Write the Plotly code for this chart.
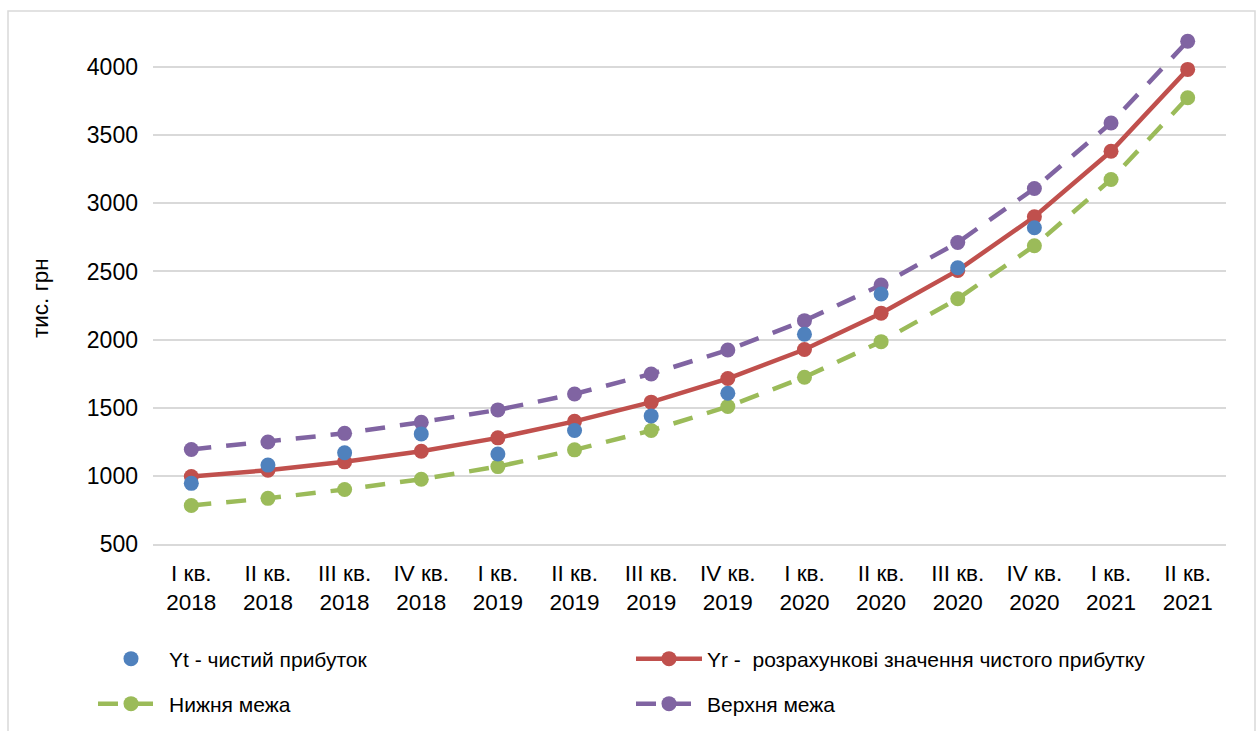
import plotly.graph_objects as go

categories = ["I кв.<br>2018", "II кв.<br>2018", "III кв.<br>2018", "IV кв.<br>2018",
              "I кв.<br>2019", "II кв.<br>2019", "III кв.<br>2019", "IV кв.<br>2019",
              "I кв.<br>2020", "II кв.<br>2020", "III кв.<br>2020", "IV кв.<br>2020",
              "I кв.<br>2021", "II кв.<br>2021"]
yt_actual = [945, 1079, 1170, 1308, 1161, 1333, 1440, 1606, 2039, 2335, 2527, 2821, None, None]
yr_calc = [995, 1042, 1103, 1181, 1279, 1400, 1541, 1714, 1927, 2194, 2508, 2901, 3382, 3983]
lower_bound = [783, 835, 900, 975, 1068, 1191, 1333, 1509, 1724, 1985, 2300, 2689, 3175, 3775]
upper_bound = [1194, 1249, 1312, 1394, 1484, 1601, 1748, 1924, 2139, 2400, 2713, 3109, 3590, 4190]
y_ticks = [500, 1000, 1500, 2000, 2500, 3000, 3500, 4000]

names = ["Yt - чистий прибуток", "Yr -\u00a0 розрахункові значення чистого прибутку",
         "Нижня межа", "Верхня межа"]

BLUE = "#4F81BD"
RED = "#C0504D"
GREEN = "#9BBB59"
PURPLE = "#8064A2"
FONT = "Liberation Sans"

fig = go.Figure()
fig.add_trace(go.Scatter(x=categories, y=lower_bound, name=names[2], mode="lines+markers",
                         line=dict(color=GREEN, width=4.5, dash="20px,15px"),
                         marker=dict(color=GREEN, size=15), legend="legend2", legendrank=1,
                         cliponaxis=False))
fig.add_trace(go.Scatter(x=categories, y=upper_bound, name=names[3], mode="lines+markers",
                         line=dict(color=PURPLE, width=4.5, dash="20px,15px"),
                         marker=dict(color=PURPLE, size=15), legend="legend2", legendrank=2,
                         cliponaxis=False))
fig.add_trace(go.Scatter(x=categories, y=yr_calc, name=names[1], mode="lines+markers",
                         line=dict(color=RED, width=4.5),
                         marker=dict(color=RED, size=15), legend="legend", legendrank=2,
                         cliponaxis=False))
fig.add_trace(go.Scatter(x=categories, y=yt_actual, name=names[0], mode="markers",
                         marker=dict(color=BLUE, size=15), legend="legend", legendrank=1,
                         cliponaxis=False))

L, R, T, B = 153, 33, 33, 187
W, H = 1259, 731
pw, ph = W - L - R, H - T - B

def px_x(p):
    return (p - L) / pw

def px_y(p):
    return (H - B - p) / ph

legend_common = dict(orientation="h", xanchor="left", yanchor="middle",
                     entrywidth=457, font=dict(size=21), bgcolor="rgba(0,0,0,0)",
                     itemwidth=66, borderwidth=0)

fig.update_layout(
    width=W, height=H,
    margin=dict(l=L, r=R, t=T, b=B, pad=0, autoexpand=False),
    paper_bgcolor="white", plot_bgcolor="white",
    font=dict(family=FONT, size=21, color="#000000"),
    showlegend=True,
    legend=dict(x=px_x(93), y=px_y(659), **legend_common),
    legend2=dict(x=px_x(93), y=px_y(704), **legend_common),
    xaxis=dict(type="category", range=[-0.5, 13.5], showgrid=False, showline=True,
               linecolor="#D9D9D9", linewidth=1.5, ticks="", tickfont=dict(size=22.5),
               ticklabelstandoff=8, fixedrange=True, automargin=False),
    yaxis=dict(range=[500, 4250], tickvals=y_ticks, showgrid=True, gridcolor="#D9D9D9",
               gridwidth=1.5, zeroline=False, showline=False, ticks="",
               tickfont=dict(size=23), ticklabelstandoff=14, fixedrange=True, automargin=False),
    shapes=[dict(type="rect", xref="paper", yref="paper",
                 x0=px_x(8), x1=px_x(1255), y0=px_y(760), y1=px_y(11),
                 line=dict(color="#D9D9D9", width=1.5), fillcolor="rgba(0,0,0,0)", layer="below")],
    annotations=[dict(text="тис. грн", xref="paper", yref="paper", x=px_x(40), y=px_y(298),
                      textangle=-90, showarrow=False, font=dict(size=22.5),
                      xanchor="center", yanchor="middle")],
)

fig.write_html("out.html", config={"displayModeBar": False},
               post_script="document.body.style.margin='0';")
